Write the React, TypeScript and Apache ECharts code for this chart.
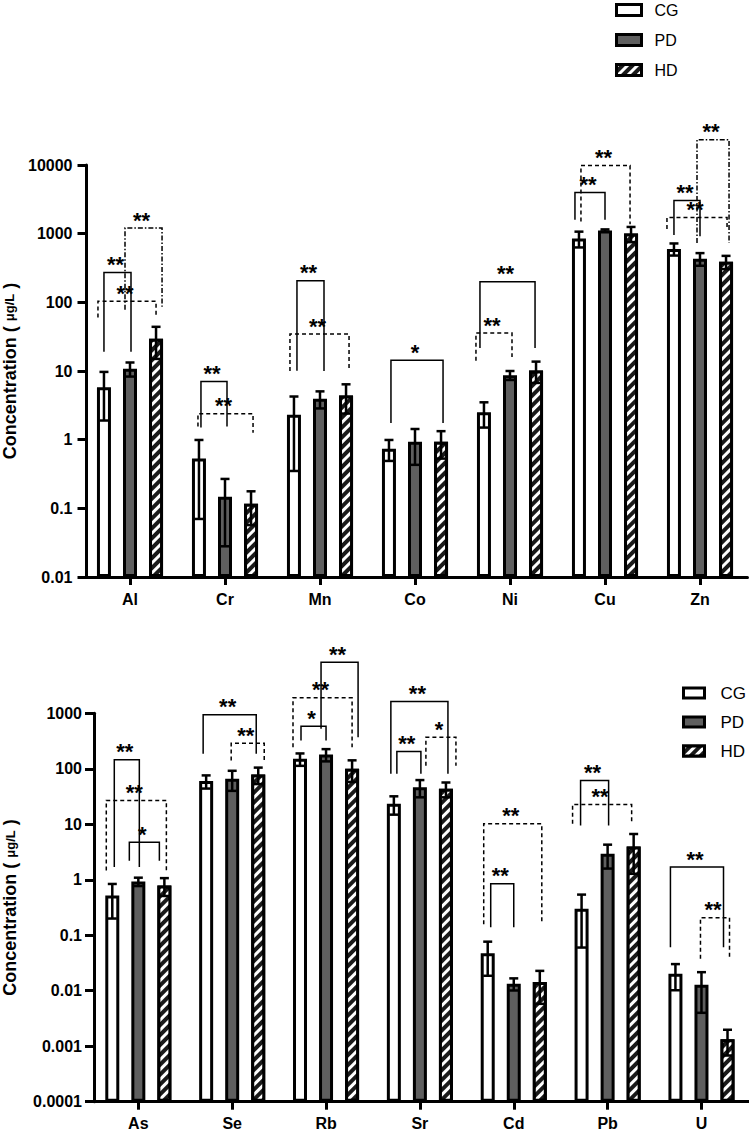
import React, { useEffect, useRef } from "react";
import * as echarts from "echarts";

const FONT = "'Liberation Sans', Arial, sans-serif";

// ---------- Top panel data ----------
const topCats = ["Al", "Cr", "Mn", "Co", "Ni", "Cu", "Zn"];
const topTicks = ["0.01", "0.1", "1", "10", "100", "1000", "10000"];
const topCG = [5.8, 0.53, 2.3, 0.74, 2.5, 850, 600];
const topCGsd = [3.9, 0.46, 1.95, 0.25, 1.0, 220, 120];
const topPD = [10.8, 0.148, 3.95, 0.93, 8.7, 1114, 431];
const topPDsd = [2.5, 0.12, 1.1, 0.5, 1.3, 40, 90];
const topHD = [29.5, 0.117, 4.4, 0.93, 10.2, 1003, 390];
const topHDsd = [14.5, 0.06, 2.0, 0.4, 3.5, 250, 85];
// [category, fromSeries, toSeries, top, leftLegEnd, rightLegEnd, lineStyle(0 solid,1 dash,2 dashdot), label, dxLeft, dxRight]
const topBrackets: any[] = [
  [0, 0, 1, 272, 19, 19, 0, "**", 0, 1],
  [0, 0, 2, 104, 60, 66, 1, "**", -6, 0],
  [0, 1, 2, 1205, 78, 86, 2, "**", -5, 6],
  [1, 0, 1, 7.06, 1.5, 1.56, 0, "**", 2, 2],
  [1, 0, 2, 2.39, 1.56, 1.26, 1, "**", -1, 2],
  [2, 0, 1, 206, 10.1, 10, 0, "**", 3, 4],
  [2, 0, 2, 34.5, 10, 10.8, 1, "**", -4, 3],
  [3, 0, 2, 14.3, 1.75, 1.75, 0, "*", 2, 2],
  [4, 0, 2, 200, 21.6, 21.6, 0, "**", -4, -1],
  [4, 0, 1, 35.7, 14.1, 16, 1, "**", -8, 2],
  [5, 0, 1, 3990, 1600, 1600, 0, "**", -4, 0],
  [5, 0, 2, 9800, 1500, 1370, 1, "**", 2, -1],
  [6, 0, 1, 3030, 960, 920, 0, "**", 0, 0],
  [6, 0, 2, 1720, 1170, 1210, 1, "**", -7, 1],
  [6, 1, 2, 23300, 730, 730, 2, "**", -3, 3],
];

// ---------- Bottom panel data ----------
const botCats = ["As", "Se", "Rb", "Sr", "Cd", "Pb", "U"];
const botTicks = ["0.0001", "0.001", "0.01", "0.1", "1", "10", "100", "1000"];
const botCG = [0.52, 60, 151, 23.4, 0.0476, 0.3, 0.0202];
const botCGsd = [0.32, 16, 38, 8.5, 0.029, 0.24, 0.01];
const botPD = [0.93, 66, 181, 46.6, 0.0134, 2.94, 0.0128];
const botPDsd = [0.16, 26, 45, 16, 0.0033, 1.35, 0.0088];
const botHD = [0.79, 79, 100, 43.6, 0.0143, 3.98, 0.00133];
const botHDsd = [0.28, 26, 42, 13, 0.0085, 2.7, 0.00065];
const botBrackets: any[] = [
  [0, 0, 1, 145, 1.7, 1.7, 0, "**", 2, 1],
  [0, 0, 2, 26.9, 1.47, 1.37, 1, "**", -6, 2],
  [0, 1, 2, 4.76, 2.2, 2.2, 0, "*", -9, -5],
  [1, 0, 2, 940, 186, 186, 0, "**", -3, -2],
  [1, 1, 2, 288, 141, 141, 1, "**", -1, 6],
  [2, 0, 1, 585, 324, 324, 0, "*", 1, 0],
  [2, 0, 2, 1900, 245, 245, 1, "**", -7, 0],
  [2, 1, 2, 8300, 525, 372, 0, "**", -5, 6],
  [3, 0, 2, 1630, 81, 81, 0, "**", -3, 2],
  [3, 0, 1, 205, 81, 81, 0, "**", 3, 1],
  [3, 1, 2, 372, 114, 114, 1, "*", 6, 10],
  [4, 0, 2, 10.2, 0.157, 0.157, 1, "**", -4, 2],
  [4, 0, 1, 0.847, 0.14, 0.14, 0, "**", 3, 0],
  [5, 0, 1, 61.5, 9.5, 9.5, 0, "**", -1, 1],
  [5, 0, 2, 22.7, 10.2, 10.2, 1, "**", -9, -2],
  [6, 0, 2, 1.69, 0.061, 0.061, 0, "**", -5, -4],
  [6, 1, 2, 0.206, 0.0377, 0.0377, 1, "**", -1, 2],
];

const seriesNames = ["CG", "PD", "HD"];

const BAR_W = 14;
const BAR_GAP = 0.86;
const SPACING = BAR_W * (1 + BAR_GAP);

const barStyles = [
  { color: "#ffffff", borderColor: "#000", borderWidth: 3 },
  { color: "#5f5f5f", borderColor: "#000", borderWidth: 3 },
  {
    color: "#1a1a1a",
    borderColor: "#000",
    borderWidth: 3,
    decal: {
      symbol: "rect",
      symbolSize: 1,
      dashArrayX: [1, 0],
      dashArrayY: [3, 4],
      rotation: -Math.PI / 4,
      color: "#ffffff",
    },
  },
];

const DASHES: any[] = [null, [4, 3], [5, 2, 1.5, 2]];

function errorSeries(idx: number, means: number[][], sds: number[][]) {
  const data: number[][] = [];
  means.forEach((arr, s) =>
    arr.forEach((m, c) => data.push([c, s, m, sds[s][c]]))
  );
  return {
    type: "custom",
    xAxisIndex: idx,
    yAxisIndex: idx,
    z: 5,
    encode: { x: 0, y: 2 },
    data,
    renderItem: (params: any, api: any) => {
      const c = api.value(0);
      const s = api.value(1);
      const m = api.value(2);
      const sd = api.value(3);
      const base = api.coord([c, m]);
      const cx = base[0] + (s - 1) * SPACING;
      const yt = api.coord([c, m + sd])[1];
      const lo = m - sd;
      const yb = lo > 0 ? api.coord([c, lo])[1] : base[1];
      const cap = 4.5;
      const st = { stroke: "#000", lineWidth: 2.5 };
      return {
        type: "group",
        children: [
          { type: "line", shape: { x1: cx, y1: yt, x2: cx, y2: yb }, style: st },
          { type: "line", shape: { x1: cx - cap, y1: yt, x2: cx + cap, y2: yt }, style: st },
          { type: "line", shape: { x1: cx - cap, y1: yb, x2: cx + cap, y2: yb }, style: st },
        ],
      };
    },
  };
}

function bracketSeries(idx: number, brackets: any[]) {
  return {
    type: "custom",
    xAxisIndex: idx,
    yAxisIndex: idx,
    z: 6,
    clip: false,
    encode: { x: 0, y: 1 },
    data: brackets.map((b) => [b[0], b[3]]),
    renderItem: (params: any, api: any) => {
      const b = brackets[params.dataIndex];
      const [c, s1, s2, top, e1, e2, dash, label, dx1, dx2] = b;
      const pt = api.coord([c, top]);
      const x1 = pt[0] + (s1 - 1) * SPACING + dx1;
      const x2 = pt[0] + (s2 - 1) * SPACING + dx2;
      const yT = pt[1];
      const y1 = api.coord([c, e1])[1];
      const y2 = api.coord([c, e2])[1];
      return {
        type: "group",
        children: [
          {
            type: "polyline",
            shape: { points: [[x1, y1], [x1, yT], [x2, yT], [x2, y2]] },
            style: { stroke: "#000", lineWidth: 1.5, fill: null, lineDash: DASHES[dash] },
          },
          {
            type: "text",
            style: {
              text: label,
              x: (x1 + x2) / 2 - 2,
              y: yT - 8,
              align: "center",
              verticalAlign: "middle",
              fontSize: 22,
              fontWeight: "bold",
              fontFamily: FONT,
              fill: "#000",
            },
          },
        ],
      };
    },
  };
}

function yAxisCfg(idx: number, min: number, max: number, ticks: string[], offset: number, nameGap: number, labelMargin: number) {
  return {
    type: "log",
    gridIndex: idx,
    min,
    max,
    logBase: 10,
    splitNumber: 8,
    startValue: min,
    offset,
    name: "Concentration ( {u|μg/L} )",
    nameLocation: "middle",
    nameGap,
    nameMoveOverlap: false,
    nameTextStyle: {
      fontSize: 18,
      fontWeight: "bold",
      fontFamily: FONT,
      color: "#000",
      rich: { u: { fontSize: 13, fontWeight: "bold", fontFamily: FONT, color: "#000" } },
    },
    axisLine: { show: true, lineStyle: { color: "#000", width: 3 } },
    axisTick: { show: true, length: 9, lineStyle: { color: "#000", width: 3 } },
    splitLine: { show: false },
    minorTick: { show: false },
    axisLabel: {
      margin: labelMargin,
      fontSize: 16,
      fontWeight: "bold",
      fontFamily: FONT,
      color: "#000",
      formatter: (v: number) => ticks[Math.round(Math.log10(v / min))] ?? "",
    },
  };
}

function xAxisCfg(idx: number, cats: string[]) {
  return {
    type: "category",
    gridIndex: idx,
    data: cats,
    axisLine: { show: true, lineStyle: { color: "#000", width: 3 } },
    axisTick: { show: true, alignWithLabel: true, length: 8, lineStyle: { color: "#000", width: 3 } },
    axisLabel: { margin: 14, fontSize: 16, fontWeight: "bold", fontFamily: FONT, color: "#000" },
  };
}

function barSeries(idx: number, values: number[][]) {
  return values.map((vals, s) => ({
    name: seriesNames[s],
    type: "bar",
    xAxisIndex: idx,
    yAxisIndex: idx,
    barWidth: BAR_W,
    barGap: `${BAR_GAP * 100}%`,
    z: 2,
    itemStyle: barStyles[s],
    data: vals,
  }));
}

export default function App() {
  const ref = useRef<HTMLDivElement>(null);
  useEffect(() => {
    if (!ref.current) return;
    const chart = echarts.init(ref.current, null, { renderer: "svg" });
    const option: any = {
      animation: false,
      backgroundColor: "#fff",
      legend: [
        {
          data: seriesNames,
          orient: "vertical",
          left: 615,
          top: 1,
          padding: 0,
          icon: "rect",
          itemWidth: 25,
          itemHeight: 11,
          itemGap: 12,
          itemStyle: { borderWidth: 3, borderColor: "#000" },
          textStyle: { fontSize: 16, lineHeight: 18, color: "#000", fontFamily: FONT, padding: [0, 0, 0, 8] },
        },
        {
          data: seriesNames,
          orient: "vertical",
          left: 682,
          top: 683,
          padding: 0,
          icon: "rect",
          itemWidth: 21,
          itemHeight: 10,
          itemGap: 9,
          itemStyle: { borderWidth: 3, borderColor: "#000" },
          textStyle: { fontSize: 17, lineHeight: 20, color: "#000", fontFamily: FONT, padding: [0, 0, 0, 11] },
        },
      ],
      grid: [
        { left: 82.5, top: 165, width: 665, height: 412, containLabel: false, outerBoundsMode: "none" },
        { left: 91.4, top: 713.3, width: 657, height: 388.4, containLabel: false, outerBoundsMode: "none" },
      ],
      xAxis: [xAxisCfg(0, topCats), xAxisCfg(1, botCats)],
      yAxis: [
        yAxisCfg(0, 0.01, 10000, topTicks, -4, 68, 14),
        yAxisCfg(1, 0.0001, 1000, botTicks, -2.6, 75, 12),
      ],
      series: [
        ...barSeries(0, [topCG, topPD, topHD]),
        ...barSeries(1, [botCG, botPD, botHD]),
        errorSeries(0, [topCG, topPD, topHD], [topCGsd, topPDsd, topHDsd]),
        errorSeries(1, [botCG, botPD, botHD], [botCGsd, botPDsd, botHDsd]),
        bracketSeries(0, topBrackets),
        bracketSeries(1, botBrackets),
      ],
    };
    chart.setOption(option);
    return () => chart.dispose();
  }, []);
  return (
    <div
      ref={ref}
      style={{ position: "absolute", left: 0, top: 0, width: 749, height: 1132, background: "#fff" }}
    />
  );
}
